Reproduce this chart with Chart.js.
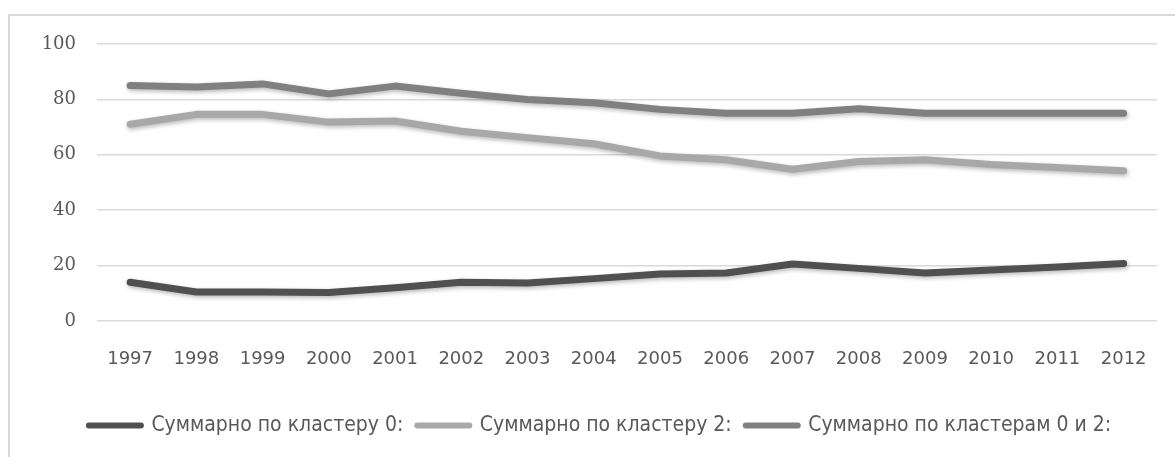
<!DOCTYPE html>
<html>
<head>
<meta charset="utf-8">
<script src="https://cdn.jsdelivr.net/npm/chart.js@4/dist/chart.umd.min.js"></script>
<style>
  html, body { margin: 0; padding: 0; background: #ffffff; overflow: hidden; }
  #wrap { position: relative; width: 1175px; height: 457px; }
  #frame { position: absolute; left: 8px; top: 14px; width: 1300px; height: 600px;
           border: 2px solid #d9d9d9; box-sizing: border-box; }
  canvas { position: absolute; left: 0; top: 0; filter: blur(0.4px); }
</style>
</head>
<body>
<div id="wrap">
  <div id="frame"></div>
  <canvas id="chart" width="1175" height="457"></canvas>
</div>
<script>
// Years on the category axis
const years = ['1997','1998','1999','2000','2001','2002','2003','2004',
               '2005','2006','2007','2008','2009','2010','2011','2012'];

// Series values, per cent
const cluster0 = [14, 10.5, 10.5, 10.3, 12, 14, 13.7, 15.3, 17, 17.3, 20.6, 19, 17.3, 18.4, 19.5, 20.8];
const cluster2 = [71, 74.6, 74.6, 71.8, 72.2, 68.5, 66.2, 64, 59.6, 58.2, 54.8, 57.6, 58.2, 56.5, 55.4, 54.2];
const clusters02 = [85, 84.5, 85.6, 82, 84.8, 82.2, 80, 78.8, 76.4, 75, 75, 76.6, 75, 75, 75, 75];

// Y-axis ticks
const yTicks = [0, 20, 40, 60, 80, 100];

const seriesNames = ['Суммарно по кластеру 0:', 'Суммарно по кластеру 2:', 'Суммарно по кластерам 0 и 2:'];
const seriesColors = ['#505050', '#a8a8a8', '#808080'];

const textColor = '#595959';
const gridColor = '#d9d9d9';

// Soft drop shadow under the lines
const lineShadow = {
  id: 'lineShadow',
  beforeDatasetsDraw(chart) {
    const ctx = chart.ctx;
    ctx.save();
    ctx.shadowColor = 'rgba(0,0,0,0.28)';
    ctx.shadowBlur = 4;
    ctx.shadowOffsetX = 1;
    ctx.shadowOffsetY = 2;
  },
  afterDatasetsDraw(chart) {
    chart.ctx.restore();
  }
};

function makeSet(i, values) {
  return {
    label: seriesNames[i],
    data: values,
    borderColor: seriesColors[i],
    backgroundColor: seriesColors[i],
    borderWidth: 7,
    borderCapStyle: 'round',
    borderJoinStyle: 'round',
    pointRadius: 0,
    pointStyle: 'line',
    tension: 0,
    fill: false
  };
}

new Chart(document.getElementById('chart'), {
  type: 'line',
  data: {
    labels: years,
    datasets: [makeSet(0, cluster0), makeSet(1, cluster2), makeSet(2, clusters02)]
  },
  plugins: [lineShadow],
  options: {
    responsive: false,
    animation: false,
    layout: { padding: { left: 40, right: 15, top: 44, bottom: 11 } },
    scales: {
      x: {
        offset: true,
        grid: { display: false, drawTicks: false },
        border: { display: false },
        ticks: {
          color: textColor,
          font: { family: 'DejaVu Sans', size: 18 },
          padding: 28,
          maxRotation: 0,
          autoSkip: false
        },
        afterFit(scale) { scale.height = 80; }
      },
      y: {
        min: 0,
        max: 100,
        afterBuildTicks(scale) { scale.ticks = yTicks.map(v => ({ value: v })); },
        grid: { color: gridColor, lineWidth: 1.5, drawTicks: false },
        border: { display: false },
        ticks: {
          color: textColor,
          font: { family: 'DejaVu Serif', size: 18 },
          padding: 21
        },
        afterFit(scale) { scale.width = 57; }
      }
    },
    plugins: {
      legend: {
        position: 'bottom',
        labels: {
          color: textColor,
          font: { family: "'Liberation Sans Narrow', 'DejaVu Sans Condensed', sans-serif", size: 21 },
          usePointStyle: true,
          pointStyleWidth: 52,
          boxHeight: 6,
          padding: 14,
          generateLabels(chart) {
            return chart.data.datasets.map((ds, i) => ({
              text: ds.label,
              fillStyle: ds.borderColor,
              strokeStyle: ds.borderColor,
              lineWidth: 6,
              lineCap: 'round',
              pointStyle: 'line',
              fontColor: textColor,
              datasetIndex: i,
              hidden: false
            }));
          }
        }
      },
      tooltip: { enabled: false }
    }
  }
});
</script>
</body>
</html>
